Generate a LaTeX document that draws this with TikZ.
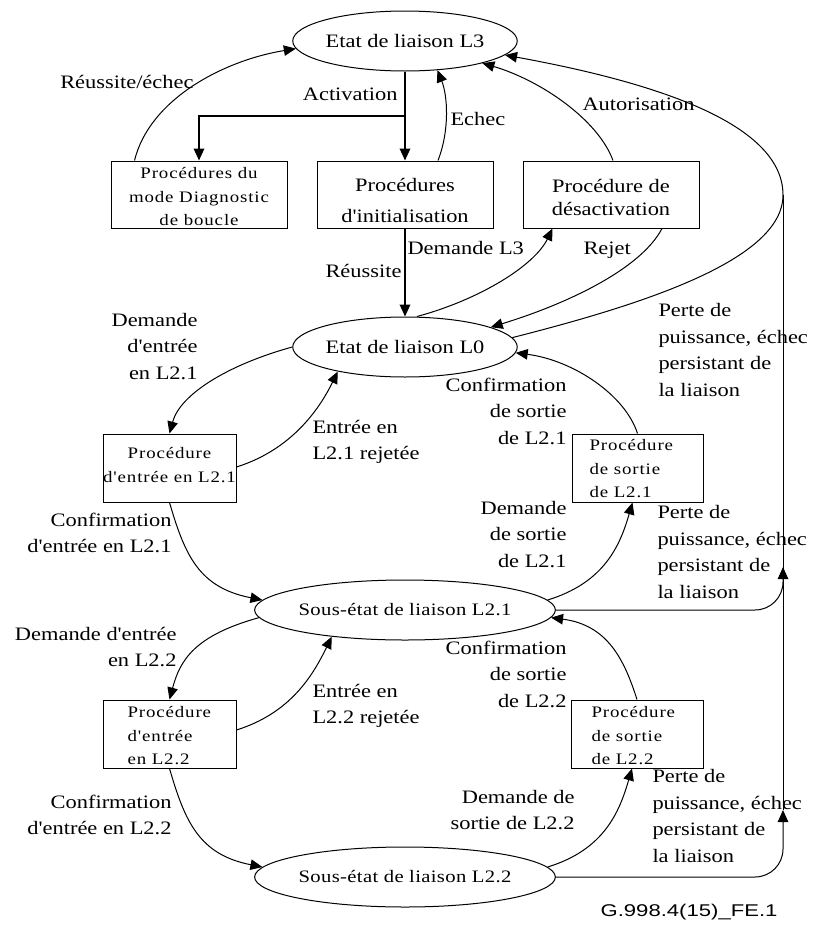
\documentclass[tikz,border=0pt]{standalone}
\usepackage{fontspec}
\setmainfont{Liberation Serif}[FakeStretch=1.18,Ligatures=TeXOff]
\newfontfamily\smallserif{Liberation Serif}[FakeStretch=1.18,LetterSpace=5.5,Ligatures=TeXOff]
\newfontfamily\stateserif{Liberation Serif}[FakeStretch=1.18,LetterSpace=2,Ligatures=TeXOff]
\newfontfamily\refsans{Liberation Sans}[FakeStretch=1.3]
\usetikzlibrary{arrows.meta,shapes.geometric,calc}

\begin{document}
\begin{tikzpicture}[x=1pt,y=-1pt,
  line width=1pt,
  >={Triangle[length=12pt,width=10.5pt]},
  state/.style={draw,ellipse,minimum width=220pt,minimum height=60pt,inner sep=0pt},
  bigstate/.style={state,font=\fontsize{19}{24}\selectfont},
  substate/.style={state,font=\stateserif\fontsize{17.5}{20}\selectfont},
  proc/.style={draw,rectangle,inner sep=0pt},
  bigtxt/.style={inner sep=0pt,font=\fontsize{19}{#1}\selectfont,align=center},
  smalltxt/.style={inner sep=0pt,font=\smallserif\fontsize{16}{23.5}\selectfont},
  lbl/.style={inner sep=0pt,font=\fontsize{19}{26.5}\selectfont,
    execute at begin node=\strut,execute at end node=\strut},
  lblr/.style={lbl,align=right,anchor=east},
  lbll/.style={lbl,align=left,anchor=west},
  thickline/.style={line width=1.8pt},
]
\useasboundingbox (0,0) rectangle (814,929);

% ---- states
\node[bigstate] (L3)  at (405,41)  {Etat de liaison L3};
\node[bigstate] (L0)  at (405,347) {Etat de liaison L0};
\node[substate] (L21) at (405,610) {Sous-état de liaison L2.1};
\node[substate] (L22) at (405,877) {Sous-état de liaison L2.2};

% ---- procedure boxes
\node[proc,minimum width=176pt,minimum height=67pt] (diag)   at (199,194.5) {};
\node[proc,minimum width=176pt,minimum height=67pt] (init)   at (405,194.5) {};
\node[proc,minimum width=176pt,minimum height=67pt] (desact) at (611,194.5) {};
\node[proc,minimum width=133pt,minimum height=68pt] (entree1) at (169.5,468) {};
\node[proc,minimum width=131pt,minimum height=68pt] (sortie1) at (637.5,468) {};
\node[proc,minimum width=133pt,minimum height=68pt] (entree2) at (169.5,734) {};
\node[proc,minimum width=132pt,minimum height=68pt] (sortie2) at (637,734) {};

% ---- box texts
\node[smalltxt,align=center] (diagT) at (199,196.7) {Procédures du\\mode Diagnostic\\de boucle};
\node[bigtxt=31] (initT) at (405,200) {Procédures\\d'initialisation};
\node[bigtxt=23.5] (desactT) at (611,197.5) {Procédure de\\désactivation};
\node[smalltxt,align=center] (entree1T) at (169.5,465) {Procédure\\d'entrée en L2.1};
\node[smalltxt,align=left,anchor=west] (sortie1T) at (589,469) {Procédure\\de sortie\\de L2.1};
\node[smalltxt,align=left,anchor=west] (entree2T) at (127,736) {Procédure\\d'entrée\\en L2.2};
\node[smalltxt,align=left,anchor=west] (sortie2T) at (591,736) {Procédure\\de sortie\\de L2.2};

% ---- junction of the loss-of-power path
\coordinate (J) at (783,195);

% ---- L3 transitions
\draw[thickline,->] (L3.south) -- (init.north);
\draw[thickline,->] ($(L3.south)!0.5!(init.north)$) -| (diag.north);
\draw[->] ($(diag.north west)+(24,0)$) .. controls +(15,-61) and +(-73,12) .. (L3.184);
\draw[->] ($(init.north)+(33,0)$) .. controls +(12,-31) and +(10,25) .. (L3.-42);
\draw[->] ($(desact.north)+(2,0)$) .. controls +(-15,-41) and +(58,17) .. (L3.-16);
\draw[->] (J) .. controls +(0,-75) and +(137,25) .. (L3.-8);
\draw (L0.5) .. controls +(130,-33) and +(0,65) .. (J);

% ---- L0 transitions
\draw[thickline,->] (init.south) -- (L0.north);
\draw[->] ($(L0.north)+(12,0)$) .. controls +(63,-17) and +(-18,37) .. ($(desact.south west)+(30,0)$);
\draw[->] ($(desact.south)+(51,0)$) .. controls +(-22,42) and +(72,-22) .. (L0.13);
\draw[->] (L0.west) .. controls +(-65,18) and +(10.5,-39) .. (entree1.north);
\draw[->] ($(entree1.east)+(0,-1)$) .. controls +(54,-17) and +(-19,39) .. (L0.200);
\draw[->] (entree1.south) .. controls +(15.5,53) and +(-63.5,-12.5) .. (L21.176);
\draw[->] (sortie1.north) .. controls +(-12.5,-39) and +(57,7.3) .. (L0.-3);
\draw[->] (L21.4) .. controls +(57,-17.5) and +(-12.5,43) .. ($(sortie1.south)+(-5,0)$);

% ---- L2.1 transitions
\draw[->] (L21.183) .. controls +(-65,18) and +(10.5,-39) .. (entree2.north);
\draw[->] ($(entree2.east)+(0,-4)$) .. controls +(54,-17) and +(-19,39) .. (L21.200);
\draw[->] (entree2.south) .. controls +(15.5,53) and +(-63.5,-12.5) .. (L22.176);
\draw[->] (sortie2.north) .. controls +(-12.5,-39) and +(57,7.3) .. (L21.-3);
\draw[->] (L22.4) .. controls +(57,-17.5) and +(-12.5,43) .. ($(sortie2.south)+(-5,0)$);

% ---- loss of power / persistent failure path
\draw[->,rounded corners=28pt] (L21.east) -- (L21.east -| J) -- ++(0,-43);
\draw[->,rounded corners=28pt] (L22.east) -- (L22.east -| J) -- ++(0,-67) coordinate (T2);
\draw (T2) -- (J);

% ---- labels
\node[lblr] (lReussiteEchec) at (194,83) {Réussite/échec};
\node[lblr] (lActivation) at (398,95) {Activation};
\node[lbll] (lEchec) at (450,120) {Echec};
\node[lbll] (lAutorisation) at (582,105) {Autorisation};
\node[lblr] (lReussite) at (402,272) {Réussite};
\node[lbll] (lDemandeL3) at (407,249) {Demande L3};
\node[lbll] (lRejet) at (583,249) {Rejet};
\node[lbll] (lPerte1) at (658,354) {Perte de\\puissance, échec\\persistant de\\la liaison};
\node[lblr] (lDemEnt1) at (198,350) {Demande\\d'entrée\\en L2.1};
\node[lbll] (lRej1) at (312,444) {Entrée en\\L2.1 rejetée};
\node[lblr] (lConfSor1) at (567,415) {Confirmation\\de sortie\\de L2.1};
\node[lblr] (lConfEnt1) at (172,537) {Confirmation\\d'entrée en L2.1};
\node[lblr] (lDemSor1) at (567,538) {Demande\\de sortie\\de L2.1};
\node[lbll] (lPerte2) at (657,556) {Perte de\\puissance, échec\\persistant de\\la liaison};
\node[lblr] (lDemEnt2) at (177,651) {Demande d'entrée\\en L2.2};
\node[lbll] (lRej2) at (312,708) {Entrée en\\L2.2 rejetée};
\node[lblr] (lConfSor2) at (567,678) {Confirmation\\de sortie\\de L2.2};
\node[lblr] (lConfEnt2) at (172,819) {Confirmation\\d'entrée en L2.2};
\node[lblr] (lDemSor2) at (575,814) {Demande de\\sortie de L2.2};
\node[lbll] (lPerte3) at (652,820) {Perte de\\puissance, échec\\persistant de\\la liaison};
\node[inner sep=0pt,anchor=east,font=\refsans\fontsize{17}{20}\selectfont] (fig) at (778,912) {G.998.4(15)\_FE.1};
\end{tikzpicture}
\end{document}
